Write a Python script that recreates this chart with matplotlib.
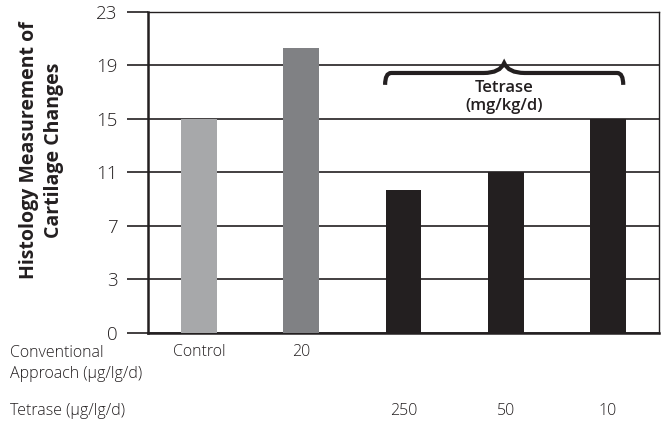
import numpy as np
import matplotlib.pyplot as plt
from matplotlib.path import Path
from matplotlib.patches import PathPatch
import matplotlib.transforms as mtransforms

# -----------------------------
# Data
# -----------------------------
groups = ["Control", "Conv 20", "Tetrase 250", "Tetrase 50", "Tetrase 10"]
scores = [15, 20.3, 9.7, 11, 15]
conventional_labels = ["Control", "20", "", "", ""]
tetrase_labels = ["", "", "250", "50", "10"]
y_ticks = [0, 3, 7, 11, 15, 19, 23]

BAR_COLORS = ["#a7a8aa", "#808184", "#231f20", "#231f20", "#231f20"]
INK = "#231f20"
FONT = "Open Sans"

plt.rcParams["font.family"] = [FONT, "DejaVu Sans"]

fig = plt.figure(figsize=(6.66, 4.22), dpi=100)
ax = fig.add_axes([0.2222, 0.2109, 0.7673, 0.7607])

# tick values sit at evenly spaced heights on the printed axis
tick_idx = np.arange(len(y_ticks))
ax.set_yscale(
    "function",
    functions=(
        lambda v: np.interp(v, y_ticks, tick_idx),
        lambda p: np.interp(p, tick_idx, y_ticks),
    ),
)

x = np.arange(len(groups))
ax.bar(x, scores, width=0.35, color=BAR_COLORS, zorder=3)

ax.set_xlim(-0.5, len(groups) - 0.5)
ax.set_ylim(0, 23)
ax.set_yticks(y_ticks)
ax.set_yticklabels([str(t) for t in y_ticks], fontsize=13.5, color=INK,
                   fontweight="light")
ax.yaxis.set_minor_locator(plt.NullLocator())
ax.tick_params(axis="y", length=15, width=1.2, color=INK, pad=7)
ax.set_xticks([])

ax.grid(axis="y", color=INK, linewidth=1.2, zorder=0)
ax.set_axisbelow(True)
for side in ["left", "bottom"]:
    ax.spines[side].set_linewidth(1.8)
    ax.spines[side].set_color(INK)
for side in ["top", "right"]:
    ax.spines[side].set_linewidth(1.0)
    ax.spines[side].set_color(INK)

ax.set_ylabel("Histology Measurement of\nCartilage Changes", fontsize=14,
              fontweight="bold", color=INK, linespacing=1.3)
ax.yaxis.set_label_coords(-0.165, 0.57)

# labels under the bars
trans = mtransforms.blended_transform_factory(ax.transData, ax.transAxes)
for xi, lab in zip(x, conventional_labels):
    ax.text(xi, -0.059, lab, transform=trans, ha="center", va="center",
            fontsize=11.5, color=INK, fontweight="light")
for xi, lab in zip(x, tetrase_labels):
    ax.text(xi, -0.243, lab, transform=trans, ha="center", va="center",
            fontsize=11.5, color=INK, fontweight="light")

fig.text(0.015, 0.139, "Conventional\nApproach (\u03bcg/lg/d)", ha="left",
         va="center", fontsize=11.5, color=INK, fontweight="light",
         linespacing=1.4)
fig.text(0.015, 0.026, "Tetrase (\u03bcg/lg/d)", ha="left", va="center",
         fontsize=11.5, color=INK, fontweight="light")

# curly brace over the tetrase group
x0, x1 = 1.82, 4.15
xm = (x0 + x1) / 2
y_end, y_bar, y_tip = 0.773, 0.81, 0.841
verts = [
    (x0, y_end), (x0, y_bar), (x0 + 0.06, y_bar), (x0 + 0.2, y_bar),
    (xm - 0.2, y_bar), (xm - 0.04, y_bar), (xm, y_tip),
    (xm + 0.04, y_bar), (xm + 0.2, y_bar), (x1 - 0.2, y_bar),
    (x1 - 0.06, y_bar), (x1, y_bar), (x1, y_end),
]
codes = [Path.MOVETO, Path.CURVE3, Path.CURVE3, Path.LINETO,
         Path.LINETO, Path.CURVE3, Path.CURVE3,
         Path.CURVE3, Path.CURVE3, Path.LINETO,
         Path.LINETO, Path.CURVE3, Path.CURVE3]
brace = PathPatch(Path(verts, codes), transform=trans, facecolor="none",
                  edgecolor=INK, linewidth=3, capstyle="butt", zorder=4,
                  clip_on=False)
ax.add_patch(brace)
ax.text(xm, 0.735, "Tetrase\n(mg/kg/d)", transform=trans, ha="center",
        va="center", fontsize=12, fontweight="semibold", color=INK,
        linespacing=1.1, zorder=5)

fig.savefig("out.png", dpi=100)
